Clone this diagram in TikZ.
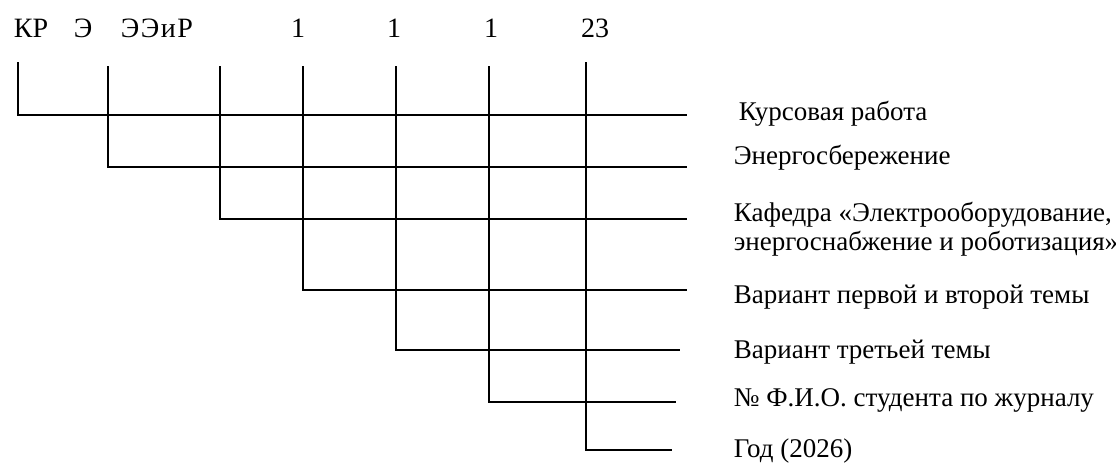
\documentclass[tikz,border=0pt]{standalone}
\usepackage{fontspec}
\setmainfont{Liberation Serif}
\begin{document}
\begin{tikzpicture}[x=1pt,y=-1pt,
  line width=1.8pt,
  txt/.style={inner sep=0pt, font=\fontsize{27}{30}\selectfont},
  toptxt/.style={inner sep=0pt, font=\fontsize{28}{30}\selectfont},
  toplbl/.style={toptxt, anchor=base west},
  topnum/.style={toptxt, anchor=base},
  rlbl/.style={txt, anchor=base west}]
\useasboundingbox (0,0) rectangle (1116,463);
% top labels
\node[toplbl] (t1) at (13,37) {КР};
\node[toplbl] (t2) at (73,37) {Э};
\node[toplbl] (t3) at (120,37) {Э\kern1.5pt Э\kern1.5pt и\kern1.5pt Р};
\node[topnum] (t4) at (298,37) {1};
\node[topnum] (t5) at (394,37) {1};
\node[topnum] (t6) at (491,37) {1};
\node[topnum] (t7) at (595,37) {23};
% right labels
\node[rlbl] (r1) at (738,120) {Курсовая работа};
\node[rlbl] (r2) at (733,164) {Энергосбережение};
\node[rlbl] (r3) at (733,221) {Кафедра «Электрооборудование,};
\node[rlbl] (r3b) at (733,250) {энергоснабжение и роботизация»};
\node[rlbl] (r4) at (733,303) {Вариант первой и второй темы};
\node[rlbl] (r5) at (733,358) {Вариант третьей темы};
\node[rlbl] (r6) at (733,406) {№ Ф.И.О. студента по журналу};
\node[rlbl] (r7) at (733,457) {Год (2026)};
% line tops
\coordinate (v1) at (18,62);
\coordinate (v2) at (108,66);
\coordinate (v3) at (220,66);
\coordinate (v4) at (303,66);
\coordinate (v5) at (396,66);
\coordinate (v6) at (489,66);
\coordinate (v7) at (586,62);
% line ends
\coordinate (e1) at (687,115);
\coordinate (e2) at (687,167);
\coordinate (e3) at (687,219);
\coordinate (e4) at (687,290);
\coordinate (e5) at (680,350);
\coordinate (e6) at (676,402);
\coordinate (e7) at (672,450);
\foreach \i in {1,...,7} {\draw (v\i) |- (e\i);}
\end{tikzpicture}
\end{document}
